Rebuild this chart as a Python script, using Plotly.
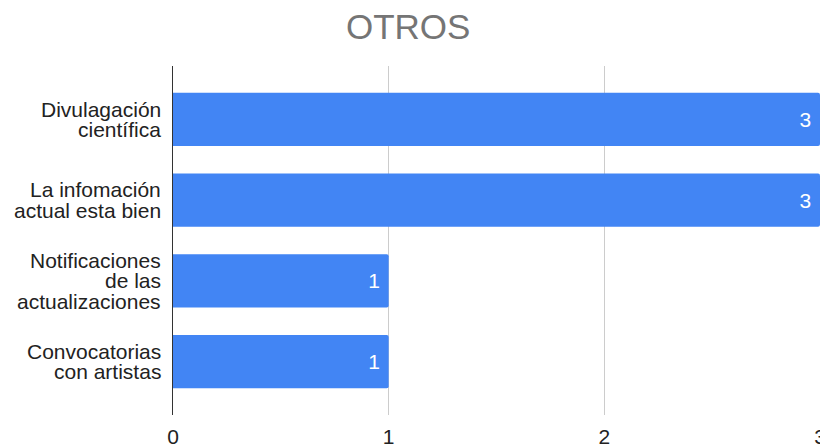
import plotly.graph_objects as go

# data ------------------------------------------------------------------
label_lines = [
    ["Divulagación", "científica"],
    ["La infomación", "actual esta bien"],
    ["Notificaciones", "de las", "actualizaciones"],
    ["Convocatorias", "con artistas"],
]
categories = [" ".join(l) for l in label_lines]
counts = [3, 3, 1, 1]
x_ticks = [0, 1, 2, 3]

FONT = "Liberation Sans, Arial, sans-serif"
LINE_H = 20.5

fig = go.Figure()
fig.add_trace(go.Bar(
    x=counts, y=categories, orientation="h",
    marker=dict(color="#4285F4", line=dict(width=0)),
    width=0.66,
    texttemplate="%{x}\u00a0",
    textposition="inside", insidetextanchor="end",
    textfont=dict(color="white", size=21, family=FONT),
    cliponaxis=False,
))

# category labels, one annotation per line so the line spacing stays tight
for cat, lines in zip(categories, label_lines):
    n = len(lines)
    for i, txt in enumerate(lines):
        fig.add_annotation(
            x=0, xref="paper", y=cat, yref="y",
            text=txt, showarrow=False,
            xanchor="right", yanchor="middle", xshift=-10,
            yshift=-(i - (n - 1) / 2) * LINE_H,
            font=dict(size=21, color="#222222", family=FONT),
        )

# page body has an 8px margin, so the figure is 8px smaller than the window
fig.update_layout(
    width=820, height=440,
    margin=dict(l=165, r=8, t=58, b=33, autoexpand=False),
    plot_bgcolor="white", paper_bgcolor="white",
    barcornerradius=2,
    showlegend=False,
    font=dict(family=FONT, size=21, color="#222222"),
    title=dict(text="OTROS", x=0.488, xanchor="center", y=0.957, yanchor="middle",
               font=dict(size=35, color="#757575", family=FONT)),
)
fig.update_xaxes(
    range=[0, 3], tickvals=x_ticks, ticktext=[str(t) for t in x_ticks],
    showgrid=True, gridcolor="#cccccc", gridwidth=1,
    zeroline=False, showline=False, ticks="", automargin=False,
    ticklabelstandoff=7,
    tickfont=dict(size=21, color="#222222", family=FONT),
)
fig.update_yaxes(
    range=[3.66, -0.66], type="category",
    showgrid=False, zeroline=False, showline=True, linecolor="#333333", linewidth=1,
    ticks="", showticklabels=False, automargin=False,
)

fig.write_html("out.html")
